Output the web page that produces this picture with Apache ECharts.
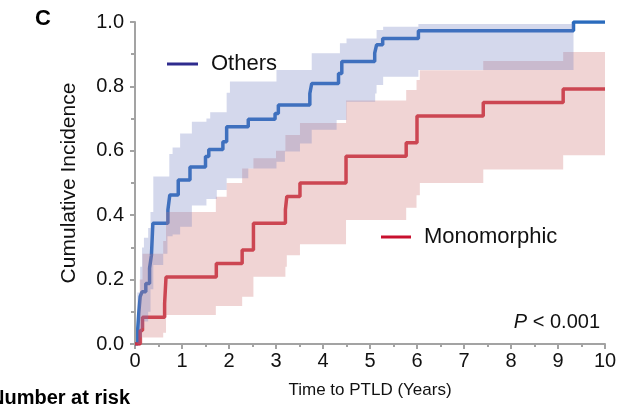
<!DOCTYPE html>
<html>
<head>
<meta charset="utf-8">
<script src="https://cdn.jsdelivr.net/npm/echarts@6/dist/echarts.min.js"></script>
<style>
html,body{margin:0;padding:0;background:#fff;}
#c{width:626px;height:410px;}
</style>
</head>
<body>
<div id="c"></div>
<script>
// ---- data ----
const xTicks = [0,1,2,3,4,5,6,7,8,9,10];
const yTicks = [0.0,0.2,0.4,0.6,0.8,1.0];

// Others (cumulative incidence step curve)
const othersTime = [0,0.06,0.08,0.11,0.15,0.23,0.31,0.35,0.38,0.70,0.74,0.92,1.17,1.50,1.57,1.87,1.95,2.41,2.98,3.05,3.72,3.76,4.33,4.40,5.10,5.14,5.27,6.03,9.33,10];
const othersCI   = [0,0.048,0.095,0.147,0.162,0.188,0.235,0.276,0.375,0.416,0.463,0.509,0.55,0.582,0.604,0.628,0.675,0.698,0.716,0.742,0.778,0.809,0.84,0.877,0.903,0.929,0.949,0.973,1.0,1.0];

// Others confidence band (segment start times, lower, upper; last time is band end)
const othersBandTime = [0.05,0.11,0.15,0.19,0.28,0.33,0.39,0.60,0.69,0.73,0.80,0.96,1.21,1.52,1.60,1.74,1.95,2.02,2.41,3.01,3.19,3.51,3.76,4.29,4.36,4.50,5.11,5.14,5.28,6.03,9.33];
const othersBandLo   = [0.00,0.02,0.05,0.07,0.10,0.17,0.245,0.28,0.335,0.335,0.34,0.364,0.43,0.45,0.45,0.478,0.515,0.515,0.545,0.566,0.598,0.623,0.665,0.696,0.696,0.752,0.778,0.804,0.83,0.851];
const othersBandUp   = [0.16,0.24,0.30,0.33,0.36,0.41,0.52,0.52,0.52,0.59,0.61,0.654,0.69,0.70,0.72,0.72,0.78,0.815,0.815,0.851,0.851,0.851,0.903,0.903,0.934,0.949,0.949,0.975,0.985,0.994];

// Monomorphic
const monoTime = [0,0.11,0.16,0.63,0.66,1.73,2.28,2.52,3.20,3.23,3.51,4.49,5.77,6.00,7.41,9.11,10];
const monoCI   = [0,0.042,0.083,0.125,0.208,0.25,0.292,0.375,0.417,0.458,0.50,0.583,0.625,0.708,0.75,0.792,0.792];

const monoBandTime = [0.10,0.16,0.60,0.66,1.72,1.95,2.28,2.52,3.00,3.20,3.23,3.51,4.49,5.77,5.99,6.06,7.41,9.11,10];
const monoBandLo   = [0.00,0.02,0.035,0.09,0.118,0.118,0.147,0.209,0.209,0.24,0.276,0.31,0.385,0.423,0.462,0.50,0.542,0.586];
const monoBandUp   = [0.20,0.28,0.32,0.41,0.457,0.50,0.545,0.577,0.60,0.649,0.649,0.686,0.756,0.789,0.82,0.85,0.879,0.907];

const seriesNames = ['Others','Monomorphic'];
const pValueText = '{i|P} < 0.001';

// ---- build ----
function pairs(t, v){ return t.map((x,i)=>[x, v[i]]); }

function bandSeries(times, lo, up, color){
  return {
    type:'custom',
    silent:true,
    z:5,
    data:[[times[0], lo[0]]],
    renderItem:function(params, api){
      const pts = [];
      for(let i=0;i<up.length;i++){
        pts.push(api.coord([times[i], up[i]]));
        pts.push(api.coord([times[i+1], up[i]]));
      }
      for(let i=lo.length-1;i>=0;i--){
        pts.push(api.coord([times[i+1], lo[i]]));
        pts.push(api.coord([times[i], lo[i]]));
      }
      return {type:'polygon', shape:{points:pts}, style:{fill:color}};
    }
  };
}

const chart = echarts.init(document.getElementById('c'), null, {renderer:'canvas'});
const axisGray = '#a3a3a3';
const font = '"Liberation Sans", Arial, Helvetica, sans-serif';

chart.setOption({
  animation:false,
  backgroundColor:'#fff',
  grid:{left:135, right:21, top:22, bottom:66, containLabel:false},
  xAxis:{
    type:'value', min:0, max:10, interval:1,
    name:'Time to PTLD (Years)', nameLocation:'middle', nameGap:38,
    nameTextStyle:{fontFamily:font, fontSize:17, color:'#111'},
    axisLine:{lineStyle:{color:axisGray, width:2}},
    axisTick:{length:5, lineStyle:{color:axisGray, width:2}},
    minorTick:{show:true, splitNumber:2, length:3, lineStyle:{color:axisGray, width:2}},
    splitLine:{show:false},
    axisLabel:{fontFamily:font, fontSize:20, color:'#111', margin:7,
      formatter:function(v){ return xTicks.indexOf(v)>=0 ? String(v) : ''; }}
  },
  yAxis:{
    type:'value', min:0, max:1, interval:0.2,
    name:'Cumulative Incidence', nameLocation:'middle', nameGap:55, nameRotate:90,
    nameTextStyle:{fontFamily:font, fontSize:21, color:'#111'},
    axisLine:{show:true, lineStyle:{color:axisGray, width:2}},
    axisTick:{show:true, length:5, lineStyle:{color:axisGray, width:2}},
    minorTick:{show:true, splitNumber:2, length:4, lineStyle:{color:axisGray, width:2}},
    splitLine:{show:false},
    axisLabel:{fontFamily:font, fontSize:20, color:'#111', margin:11,
      formatter:function(v){ return yTicks.some(t=>Math.abs(t-v)<1e-9) ? v.toFixed(1) : ''; }}
  },
  legend:[
    {data:[{name:seriesNames[0], itemStyle:{color:'#2e2b8e'}}], left:167, top:53, padding:0, icon:'rect', itemWidth:31, itemHeight:3,
      textStyle:{fontFamily:font, fontSize:22, color:'#111', padding:[0,0,0,8]}, selectedMode:false},
    {data:[{name:seriesNames[1], itemStyle:{color:'#c8102e'}}], left:381, top:226, padding:0, icon:'rect', itemWidth:30, itemHeight:3,
      textStyle:{fontFamily:font, fontSize:22, color:'#111', padding:[0,0,0,8]}, selectedMode:false}
  ],
  graphic:[
    {type:'text', left:35, top:8, style:{text:'C', fontFamily:font, fontSize:22, fontWeight:'bold', fill:'#000'}},
    {type:'text', left:-10, top:388, style:{text:'Number at risk', fontFamily:font, fontSize:20, fontWeight:'bold', fill:'#000'}},
    {type:'text', right:26, top:312, style:{text:pValueText, fontFamily:font, fontSize:20, fill:'#111',
      rich:{i:{fontStyle:'italic', fontFamily:font, fontSize:20, fill:'#111'}}}}
  ],
  series:[
    {name:seriesNames[0], type:'line', step:'end', data:pairs(othersTime, othersCI), symbol:'none',
      lineStyle:{color:'#2a6bbd', width:3.5}, itemStyle:{color:'#2a6bbd'}, z:2},
    {name:seriesNames[1], type:'line', step:'end', data:pairs(monoTime, monoCI), symbol:'none',
      lineStyle:{color:'#cc3446', width:3.5}, itemStyle:{color:'#cc3446'}, z:2},
    bandSeries(monoBandTime, monoBandLo, monoBandUp, 'rgba(205,112,112,0.3)'),
    bandSeries(othersBandTime, othersBandLo, othersBandUp, 'rgba(112,125,192,0.3)')
  ]
});
</script>
</body>
</html>
